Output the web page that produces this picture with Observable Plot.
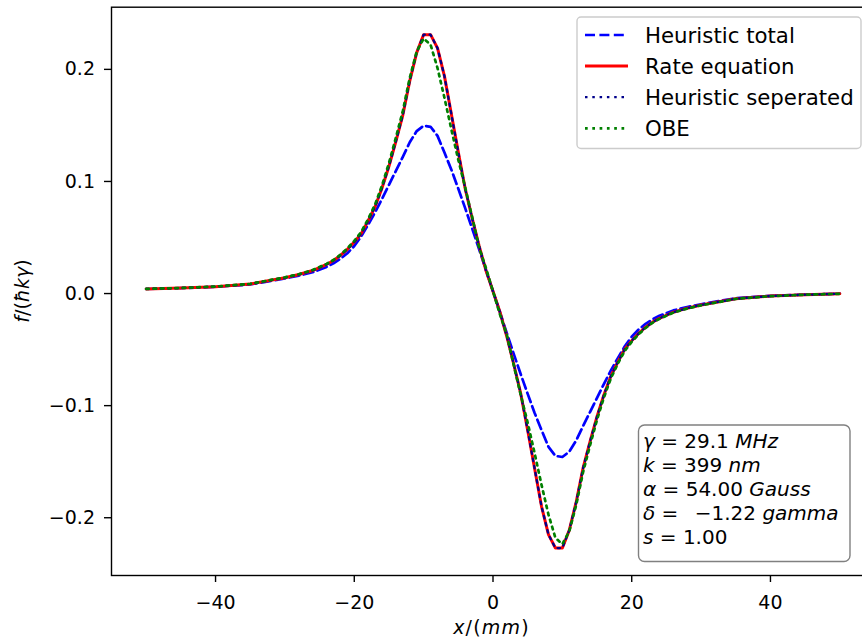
<!DOCTYPE html>
<html>
<head>
<meta charset="utf-8">
<script src="https://cdn.jsdelivr.net/npm/d3@7"></script>
<script src="https://cdn.jsdelivr.net/npm/@observablehq/plot@0.6"></script>
<style>
  html, body { margin: 0; padding: 0; background: #fff; overflow: hidden; }
  svg { font-family: "DejaVu Sans", sans-serif; overflow: hidden; }
</style>
</head>
<body>
<div id="chart"></div>
<script>
// x positions (mm)
const xs = [-50, -45, -40, -35, -30, -28, -26, -24, -23, -22, -21, -20, -19, -18, -17, -16, -15, -14, -13, -12, -11, -10, -9, -8, -7, -6, -5, -4, -3, -2, -1,
  0,
  1, 2, 3, 4, 5, 6, 7, 8, 9, 10, 11, 12, 13, 14, 15, 16, 17, 18, 19, 20, 21, 22, 23, 24, 26, 28, 30, 35, 40, 45, 50];

const heuristicTotal = [0.0021, 0.0029, 0.0040, 0.0061, 0.0115, 0.0140, 0.0170, 0.0218, 0.0250, 0.0290, 0.0340, 0.0405, 0.0490, 0.0595, 0.0705, 0.0825, 0.0950, 0.1075, 0.1200, 0.1330, 0.1430, 0.1478, 0.1468, 0.1387, 0.1238, 0.1085, 0.0915, 0.0740, 0.0560, 0.0375, 0.0185,
  0,
  -0.0185, -0.0375, -0.0560, -0.0740, -0.0915, -0.1085, -0.1238, -0.1387, -0.1468, -0.1478, -0.1430, -0.1330, -0.1200, -0.1075, -0.0950, -0.0825, -0.0705, -0.0595, -0.0490, -0.0405, -0.0340, -0.0290, -0.0250, -0.0218, -0.0170, -0.0140, -0.0115, -0.0061, -0.0040, -0.0029, -0.0021];

const rateEquation = [0.0022, 0.0030, 0.0042, 0.0066, 0.0122, 0.0150, 0.0186, 0.0240, 0.0275, 0.0320, 0.0375, 0.0440, 0.0515, 0.0630, 0.0755, 0.0922, 0.1116, 0.1338, 0.1573, 0.1878, 0.2130, 0.2290, 0.2290, 0.2170, 0.1920, 0.1580, 0.1240, 0.0913, 0.0651, 0.0405, 0.0184,
  0,
  -0.0184, -0.0405, -0.0651, -0.0913, -0.1240, -0.1580, -0.1920, -0.2170, -0.2290, -0.2290, -0.2130, -0.1878, -0.1573, -0.1338, -0.1116, -0.0922, -0.0755, -0.0630, -0.0515, -0.0440, -0.0375, -0.0320, -0.0275, -0.0240, -0.0186, -0.0150, -0.0122, -0.0066, -0.0042, -0.0030, -0.0022];

const heuristicSeparated = [0.0022, 0.0030, 0.0042, 0.0066, 0.0122, 0.0150, 0.0186, 0.0240, 0.0275, 0.0320, 0.0375, 0.0440, 0.0515, 0.0630, 0.0755, 0.0922, 0.1116, 0.1338, 0.1573, 0.1878, 0.2130, 0.2290, 0.2290, 0.2170, 0.1920, 0.1580, 0.1240, 0.0913, 0.0651, 0.0405, 0.0184,
  0,
  -0.0184, -0.0405, -0.0651, -0.0913, -0.1240, -0.1580, -0.1920, -0.2170, -0.2290, -0.2290, -0.2130, -0.1878, -0.1573, -0.1338, -0.1116, -0.0922, -0.0755, -0.0630, -0.0515, -0.0440, -0.0375, -0.0320, -0.0275, -0.0240, -0.0186, -0.0150, -0.0122, -0.0066, -0.0042, -0.0030, -0.0022];

const obe = [0.0022, 0.0030, 0.0043, 0.0067, 0.0125, 0.0153, 0.0190, 0.0245, 0.0280, 0.0327, 0.0383, 0.0450, 0.0530, 0.0645, 0.0775, 0.0945, 0.1145, 0.1372, 0.1610, 0.1905, 0.2140, 0.2255, 0.2200, 0.1992, 0.1727, 0.1444, 0.1172, 0.0925, 0.0662, 0.0390, 0.0205,
  0,
  -0.0205, -0.0390, -0.0662, -0.0925, -0.1172, -0.1444, -0.1727, -0.1992, -0.2200, -0.2255, -0.2140, -0.1905, -0.1610, -0.1372, -0.1145, -0.0945, -0.0775, -0.0645, -0.0530, -0.0450, -0.0383, -0.0327, -0.0280, -0.0245, -0.0190, -0.0153, -0.0125, -0.0067, -0.0043, -0.0030, -0.0022];

const seriesNames = ["Heuristic total", "Rate equation", "Heuristic seperated", "OBE"];
const seriesValues = [heuristicTotal, rateEquation, heuristicSeparated, obe];
const seriesColors = ["#0000ff", "#ff0000", "#00008b", "#008000"];
const seriesDash = ["10,4.4", null, "2.5,4.8", "2.7,4.6"];
const seriesWidth = [2.7, 3.0, 2.3, 2.7];

const xTicks = [-40, -20, 0, 20, 40];
const yTicks = [-0.2, -0.1, 0.0, 0.1, 0.2];

const xLabelParts = [["x", true], ["/(", false], ["mm", true], [")", false]];
const yLabelParts = [["f", true], ["/(", false], ["ħkγ", true], [")", false]];

const infoLines = [
  [["γ", true], [" = 29.1 ", false], ["MHz", true]],
  [["k", true], [" = 399 ", false], ["nm", true]],
  [["α", true], [" = 54.00 ", false], ["Gauss", true]],
  [["δ", true], [" = \u2002−1.22 ", false], ["gamma", true]],
  [["s", true], [" = 1.00", false]]
];

const lineMarks = seriesValues.map((vals, k) =>
  Plot.line(xs, {
    x: d => d,
    y: (d, i) => vals[i],
    stroke: seriesColors[k],
    strokeWidth: seriesWidth[k],
    strokeDasharray: seriesDash[k] || undefined,
    strokeLinejoin: "round"
  })
);

const chart = Plot.plot({
  width: 862,
  height: 641,
  marginLeft: 111,
  marginRight: -12,
  marginTop: 6.7,
  marginBottom: 66,
  x: {domain: [-55, 55]},
  y: {domain: [-0.2535, 0.2535]},
  style: {fontFamily: "DejaVu Sans", fontSize: "19px", background: "white", color: "black", overflow: "hidden"},
  marks: [
    ...lineMarks,
    Plot.frame({stroke: "black", strokeWidth: 1.4}),
    Plot.axisX({ticks: xTicks, tickSize: 7, tickPadding: 12.8, tickFormat: d3.format("d"), label: null, strokeWidth: 1.4, fontSize: 19}),
    Plot.axisY({ticks: yTicks, tickSize: 7, tickPadding: 9.5, tickFormat: d3.format(".1f"), label: null, strokeWidth: 1.4, fontSize: 19, dy: 2.2})
  ]
});

document.getElementById("chart").appendChild(chart);

const svg = d3.select(chart);

function addParts(textSel, parts) {
  parts.forEach(([t, it]) => {
    textSel.append("tspan").attr("font-style", it ? "italic" : "normal").text(t);
  });
}

// axis labels
const xl = svg.append("text")
  .attr("x", 491.5).attr("y", 634)
  .attr("text-anchor", "middle")
  .attr("font-size", 19)
  .attr("letter-spacing", 1.2)
  .attr("fill", "black")
  .style("white-space", "pre");
addParts(xl, xLabelParts);

const yl = svg.append("text")
  .attr("transform", "translate(29,291) rotate(-90)")
  .attr("text-anchor", "middle")
  .attr("font-size", 19)
  .attr("fill", "black")
  .style("white-space", "pre");
addParts(yl, yLabelParts);

// legend
const lg = svg.append("g");
lg.append("rect")
  .attr("x", 577).attr("y", 17).attr("width", 284).attr("height", 131.5)
  .attr("rx", 4).attr("ry", 4)
  .attr("fill", "white").attr("fill-opacity", 0.8)
  .attr("stroke", "#cccccc").attr("stroke-width", 1.4);
seriesNames.forEach((name, i) => {
  const cy = 35 + i * 31.1;
  lg.append("line")
    .attr("x1", 585).attr("x2", 628).attr("y1", cy).attr("y2", cy)
    .attr("stroke", seriesColors[i]).attr("stroke-width", seriesWidth[i])
    .attr("stroke-dasharray", seriesDash[i] || null);
  lg.append("text")
    .attr("x", 645).attr("y", cy).attr("dy", "0.36em")
    .attr("text-anchor", "start")
    .attr("font-size", 21.3).attr("fill", "black")
    .text(name);
});

// info box
const ib = svg.append("g");
ib.append("rect")
  .attr("x", 638.5).attr("y", 425).attr("width", 211.5).attr("height", 136.5)
  .attr("rx", 6).attr("ry", 6)
  .attr("fill", "white").attr("stroke", "#808080").attr("stroke-width", 1.4);
infoLines.forEach((parts, i) => {
  const t = ib.append("text")
    .attr("x", 643).attr("y", 448 + i * 24)
    .attr("text-anchor", "start")
    .attr("font-size", 20).attr("fill", "black")
    .style("white-space", "pre");
  addParts(t, parts);
});
</script>
</body>
</html>
